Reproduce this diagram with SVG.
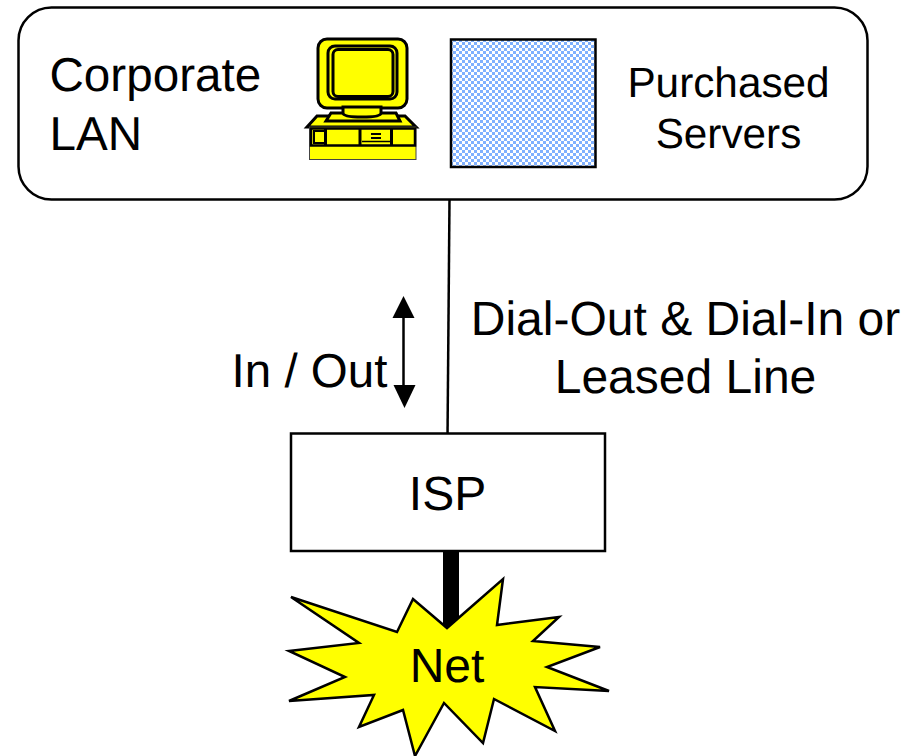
<svg xmlns="http://www.w3.org/2000/svg" width="921" height="756" viewBox="0 0 921 756">
<style>
text{font-family:"Liberation Sans",Arial,sans-serif;fill:#000;text-rendering:geometricPrecision}
.l{font-size:47.600px}
.m{font-size:48px;text-anchor:middle}
.s{font-size:42.300px;text-anchor:middle}
.k{stroke:#000;stroke-width:3}
.c{fill:#ff0;stroke:#000;stroke-width:3}
</style>
<defs>
<pattern id="chk" width="6" height="6" patternUnits="userSpaceOnUse">
<rect width="6" height="6" fill="#fff"/>
<rect width="3" height="3" fill="#7fb0ff"/>
<rect x="3" y="3" width="3" height="3" fill="#7fb0ff"/>
</pattern>
</defs>
<g id="connectors">
<line x1="449.5" y1="199" x2="447.5" y2="438" stroke="#000" stroke-width="2.5"/>
<line x1="451" y1="551" x2="451" y2="630" stroke="#000" stroke-width="16"/>
<line x1="403.5" y1="316" x2="403.5" y2="388" stroke="#000" stroke-width="2.5"/>
<polygon points="403.5,296 392.5,318 414.5,318" fill="#000"/>
<polygon points="404.5,408 393.5,385 415.5,385" fill="#000"/>
</g>
<g id="corporate-lan">
<rect x="18.5" y="7.5" width="849" height="192" rx="33" fill="#fff" stroke="#000" stroke-width="2.5"/>
<text class="l" x="49.500" y="91">Corporate</text>
<text class="l" x="49.500" y="150">LAN</text>
</g>
<g id="computer">
<rect x="318" y="39" width="89" height="69" rx="9" class="c"/>
<rect x="328" y="46" width="69" height="53" rx="7" class="c"/>
<rect x="333" y="49.500" width="60" height="47" rx="5" class="c"/>
<polygon points="307,127 317,116 405,116 416,127" class="c"/>
<polygon points="326,121 331,113 396,113 400,121" class="c"/>
<path d="M343,107H381V113Q381,117 362,117Q343,117 343,113Z" class="c"/>
<rect x="309.500" y="127" width="106.500" height="32.500" fill="#ff0" stroke="#444" stroke-width="1"/>
<rect x="311" y="128.500" width="104" height="17" fill="none" stroke="#000" stroke-width="2.500"/>
<rect x="314" y="131" width="11" height="12" fill="none" stroke="#000" stroke-width="2"/>
<line x1="325.500" y1="129" x2="325.500" y2="145" class="k"/>
<line x1="360" y1="129" x2="360" y2="145" class="k"/>
<line x1="391.500" y1="129" x2="391.500" y2="145" class="k"/>
<line x1="371" y1="134" x2="381" y2="134" stroke="#000" stroke-width="2"/>
<line x1="371" y1="138" x2="381" y2="138" stroke="#000" stroke-width="2"/>
<line x1="362" y1="141.500" x2="390" y2="141.500" stroke="#000" stroke-width="1.500"/>
</g>
<g id="purchased-servers">
<rect x="451" y="39.500" width="144.500" height="127.500" fill="url(#chk)" stroke="#000" stroke-width="2.500"/>
<text class="s" x="728.500" y="97">Purchased</text>
<text class="s" x="728.500" y="148">Servers</text>
</g>
<g id="labels">
<text class="m" x="685.500" y="335">Dial-Out &amp; Dial-In or</text>
<text class="m" x="685.500" y="393">Leased Line</text>
<text x="309.500" y="387" font-size="47.500" text-anchor="middle">In / Out</text>
</g>
<g id="isp">
<rect x="291" y="433.500" width="314" height="117.500" fill="#fff" stroke="#000" stroke-width="2.500"/>
<text x="447.500" y="510" font-size="48" text-anchor="middle">ISP</text>
</g>
<g id="net">
<polygon points="291,597 397,632 413,599 447,628 503,579 497,625 559,617 533,641 600,647 547,667 609,691 535,687 555,731 494,699 483,743 444,703 415,756 403,710 359,727 374,695 289,701 345,677 289,651 359,643" fill="#ff0" stroke="#000" stroke-width="2.500"/>
<text x="447" y="682" font-size="48" text-anchor="middle">Net</text>
</g>
</svg>
